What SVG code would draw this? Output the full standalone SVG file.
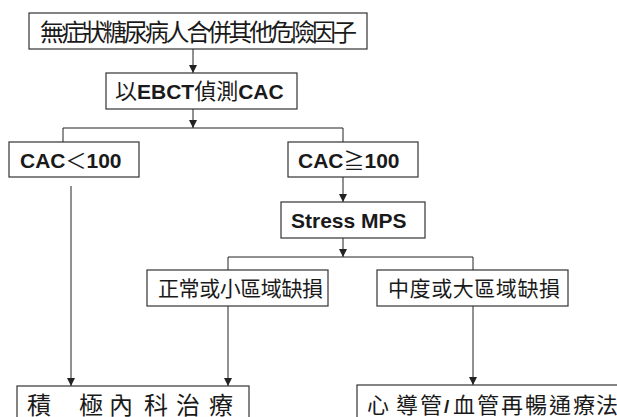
<svg xmlns="http://www.w3.org/2000/svg" width="617" height="417" viewBox="0 0 617 417">
<defs>
<style>
.box{fill:#fff;stroke:#333;stroke-width:1.2}
.cjk{font-family:"Noto Sans CJK TC","Noto Sans CJK SC",sans-serif;fill:#1a1a1a}
.lat{font-family:"Liberation Sans","Noto Sans CJK TC",sans-serif;font-weight:bold;fill:#1a1a1a}
.sym{font-family:"Noto Sans CJK TC",sans-serif;font-weight:normal}
.ln{fill:none;stroke:#222;stroke-width:1}
</style>
<marker id="ah" viewBox="0 0 8 10" refX="8" refY="5" markerWidth="8" markerHeight="10" markerUnits="userSpaceOnUse" orient="auto">
<path d="M0,1 L8,5 L0,9 Z" fill="#222"/>
</marker>
</defs>
<rect width="617" height="417" fill="#fff"/>
<g id="connectors">
<line class="ln" x1="193" y1="49" x2="193" y2="73" marker-end="url(#ah)"/>
<line class="ln" x1="193" y1="109" x2="193" y2="128" marker-end="url(#ah)"/>
<polyline class="ln" points="63,142 63,128 343,128 343,142"/>
<line class="ln" x1="71" y1="186" x2="71" y2="386" marker-end="url(#ah)"/>
<line class="ln" x1="343" y1="177" x2="343" y2="202" marker-end="url(#ah)"/>
<line class="ln" x1="343" y1="238" x2="343" y2="257" marker-end="url(#ah)"/>
<polyline class="ln" points="228,270 228,257 473,257 473,270"/>
<line class="ln" x1="228" y1="306" x2="228" y2="386" marker-end="url(#ah)"/>
<line class="ln" x1="473" y1="306" x2="473" y2="385" marker-end="url(#ah)"/>
</g>
<g id="n1">
<rect class="box" x="29" y="13" width="338" height="36"/>
<text class="cjk" x="40" y="41" font-size="24" textLength="317" lengthAdjust="spacing">無症狀糖尿病人合併其他危險因子</text>
</g>
<g id="n2">
<rect class="box" x="106" y="73" width="191" height="36"/>
<text x="115" y="99"><tspan class="cjk" font-size="22">以</tspan><tspan class="lat" font-size="21">EBCT</tspan><tspan class="cjk" font-size="22">偵測</tspan><tspan class="lat" font-size="21">CAC</tspan></text>
</g>
<g id="n3">
<rect class="box" x="9" y="142" width="130" height="35"/>
<text class="lat" x="20" y="168" font-size="21">CAC<tspan class="sym">＜</tspan>100</text>
</g>
<g id="n4">
<rect class="box" x="288" y="142" width="130" height="35"/>
<text class="lat" x="298" y="168" font-size="21">CAC<tspan class="sym">≧</tspan>100</text>
</g>
<g id="n5">
<rect class="box" x="281" y="202" width="144" height="36"/>
<text class="lat" x="291" y="228" font-size="21">Stress MPS</text>
</g>
<g id="n6">
<rect class="box" x="147" y="270" width="181" height="36"/>
<text class="cjk" x="158" y="296" font-size="21" textLength="165" lengthAdjust="spacing">正常或小區域缺損</text>
</g>
<g id="n7">
<rect class="box" x="377" y="270" width="191" height="36"/>
<text class="cjk" x="388" y="296" font-size="21" textLength="172" lengthAdjust="spacing">中度或大區域缺損</text>
</g>
<g id="n8">
<rect class="box" x="17" y="386" width="232" height="50"/>
<text class="cjk" x="27 79 109 144 176 209" y="414" font-size="24">積極內科治療</text>
</g>
<g id="n9">
<rect class="box" x="357" y="385" width="280" height="50"/>
<text y="413" font-size="22"><tspan class="cjk" x="367 396 420">心導管</tspan><tspan class="lat" x="444" font-size="19">/</tspan><tspan class="cjk" x="453 477 501 525 549 573 596">血管再暢通療法</tspan></text>
</g>
</svg>
